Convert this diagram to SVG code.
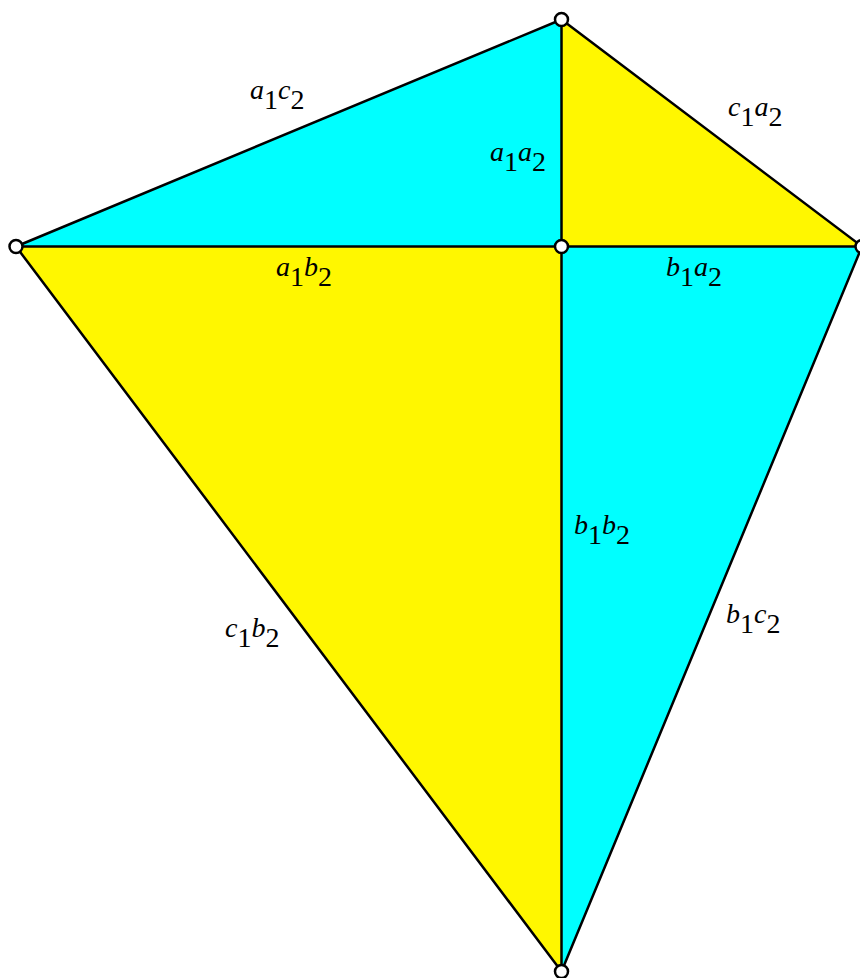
<svg xmlns="http://www.w3.org/2000/svg" width="860" height="978" viewBox="0 0 860 978">
<style>
.cy{fill:#00ffff;stroke:none}
.ye{fill:#fff700;stroke:none}
.edge{stroke:#000;stroke-width:2.5;fill:none;stroke-linecap:round}
.v{fill:#fff;stroke:#000;stroke-width:2.5}
.lb{font-family:'Liberation Serif',Tinos,Times,'DejaVu Serif',serif;font-size:28px;font-style:italic;fill:#000}
.sub{font-style:normal}
</style>
<rect width="860" height="978" fill="#fff"/>
<g id="faces">
<polygon class="cy" points="16,246 561.5,19.5 561.5,246.5"/>
<polygon class="ye" points="561.5,19.5 862,246.5 561.5,246.5"/>
<polygon class="ye" points="16,246.5 561.5,246.5 561.5,971.5"/>
<polygon class="cy" points="561.5,246.5 862,246.5 561.5,971.5"/>
</g>
<g id="connectors">
<line class="edge" x1="16" y1="246.5" x2="561.5" y2="19.5"/>
<line class="edge" x1="561.5" y1="19.5" x2="862" y2="246.5"/>
<line class="edge" x1="862" y1="246.5" x2="561.5" y2="971.5"/>
<line class="edge" x1="561.5" y1="971.5" x2="16" y2="246.5"/>
<line class="edge" x1="16" y1="246.5" x2="862" y2="246.5"/>
<line class="edge" x1="561.5" y1="19.5" x2="561.5" y2="971.5"/>
</g>
<g id="labels">
<text class="lb" x="250" y="99">a<tspan class="sub" dy="10">1</tspan><tspan dy="-10">c</tspan><tspan class="sub" dy="10">2</tspan></text>
<text class="lb" x="728" y="116">c<tspan class="sub" dy="10">1</tspan><tspan dy="-10">a</tspan><tspan class="sub" dy="10">2</tspan></text>
<text class="lb" x="490" y="161">a<tspan class="sub" dy="10">1</tspan><tspan dy="-10">a</tspan><tspan class="sub" dy="10">2</tspan></text>
<text class="lb" x="276" y="276">a<tspan class="sub" dy="10">1</tspan><tspan dy="-10">b</tspan><tspan class="sub" dy="10">2</tspan></text>
<text class="lb" x="666" y="276">b<tspan class="sub" dy="10">1</tspan><tspan dy="-10">a</tspan><tspan class="sub" dy="10">2</tspan></text>
<text class="lb" x="574" y="534">b<tspan class="sub" dy="10">1</tspan><tspan dy="-10">b</tspan><tspan class="sub" dy="10">2</tspan></text>
<text class="lb" x="726" y="623">b<tspan class="sub" dy="10">1</tspan><tspan dy="-10">c</tspan><tspan class="sub" dy="10">2</tspan></text>
<text class="lb" x="225" y="637">c<tspan class="sub" dy="10">1</tspan><tspan dy="-10">b</tspan><tspan class="sub" dy="10">2</tspan></text>
</g>
<g id="node-top"><circle class="v" cx="561.5" cy="19.5" r="6.5"/></g>
<g id="node-left"><circle class="v" cx="16" cy="246.5" r="6.5"/></g>
<g id="node-center"><circle class="v" cx="561.5" cy="246.5" r="6.5"/></g>
<g id="node-right"><circle class="v" cx="862" cy="246.5" r="6.5"/></g>
<g id="node-bottom"><circle class="v" cx="561.5" cy="971.5" r="6.5"/></g>
</svg>
